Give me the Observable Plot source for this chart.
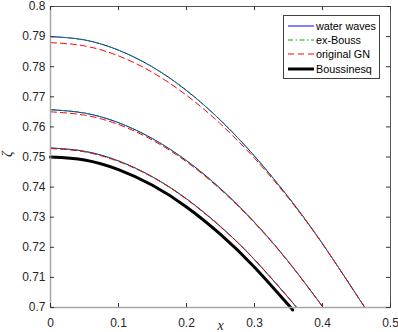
<!DOCTYPE html>
<html><head><meta charset="utf-8">
<script src="https://cdn.jsdelivr.net/npm/d3@7"></script>
<script src="https://cdn.jsdelivr.net/npm/@observablehq/plot@0.6"></script>
<style>
body{margin:0;background:#fff;}
#wrap{position:relative;width:398px;height:332px;font-family:"Liberation Sans",Arial,sans-serif;}
#legend{position:absolute;left:283px;top:15px;width:97px;height:64px;border:1px solid #404040;background:#fff;box-sizing:border-box;font-size:10.8px;color:#000;}
.row{position:absolute;left:0;height:14px;line-height:14px;white-space:nowrap;}
.row svg{position:absolute;left:3px;top:0;}
.row span{position:absolute;left:32px;top:0;}
</style></head>
<body><div id="wrap"><div id="legend"></div></div>
<script>
// tick values
const xTicks = [0, 0.1, 0.2, 0.3, 0.4, 0.5];
const yTicks = [0.7, 0.71, 0.72, 0.73, 0.74, 0.75, 0.76, 0.77, 0.78, 0.79, 0.8];
const seriesNames = ["water waves", "ex-Bouss", "original GN", "Boussinesq"];

// curve 1 (largest amplitude)
const x1 = [0, 0.05, 0.1, 0.15, 0.2, 0.25, 0.3, 0.35, 0.4, 0.45, 0.4625];
const ww1 = [0.7900, 0.7889, 0.7855, 0.7799, 0.7721, 0.7622, 0.7503, 0.7366, 0.7212, 0.7042, 0.7000];
const ex1 = [0.7900, 0.7889, 0.7855, 0.7799, 0.7721, 0.7622, 0.7503, 0.7366, 0.7212, 0.7042, 0.7000];
const gn1 = [0.7880, 0.7869, 0.7836, 0.7781, 0.7705, 0.7610, 0.7496, 0.7363, 0.7211, 0.7042, 0.7000];
// curve 2
const x2 = [0, 0.05, 0.1, 0.15, 0.2, 0.25, 0.3, 0.35, 0.401];
const ww2 = [0.7657, 0.7646, 0.7614, 0.7561, 0.7488, 0.7395, 0.7283, 0.7152, 0.7000];
const ex2 = [0.7657, 0.7646, 0.7614, 0.7561, 0.7488, 0.7395, 0.7283, 0.7152, 0.7000];
const gn2 = [0.7650, 0.7639, 0.7608, 0.7556, 0.7484, 0.7392, 0.7281, 0.7151, 0.7000];
// curve 3
const x3 = [0, 0.05, 0.1, 0.15, 0.2, 0.25, 0.3, 0.35, 0.362];
const ww3 = [0.7530, 0.7519, 0.7487, 0.7434, 0.7361, 0.7269, 0.7159, 0.7032, 0.7000];
const ex3 = [0.7530, 0.7519, 0.7487, 0.7434, 0.7361, 0.7269, 0.7159, 0.7032, 0.7000];
const gn3 = [0.7528, 0.7517, 0.7485, 0.7433, 0.7360, 0.7268, 0.7159, 0.7032, 0.7000];
// Boussinesq
const xb = [0, 0.05, 0.1, 0.15, 0.2, 0.25, 0.3, 0.35, 0.353];
const bous = [0.7500, 0.7490, 0.7458, 0.7406, 0.7334, 0.7243, 0.7134, 0.7008, 0.7000];

const rows = (xs, ys, g) => xs.map((x, i) => ({x, y: ys[i], g}));
const wwData = [...rows(x1, ww1, 1), ...rows(x2, ww2, 2), ...rows(x3, ww3, 3)];
const exData = [...rows(x1, ex1, 1), ...rows(x2, ex2, 2), ...rows(x3, ex3, 3)];
const gnData = [...rows(x1, gn1, 1), ...rows(x2, gn2, 2), ...rows(x3, gn3, 3)];
const bData = rows(xb, bous, 0);

const styles = [
  {stroke: "#0000ff", strokeWidth: 1, dash: null},
  {stroke: "#1a9a1a", strokeWidth: 1, dash: "5,2.5,1.5,2.5"},
  {stroke: "#ff0000", strokeWidth: 1, dash: "6,4"},
  {stroke: "#000000", strokeWidth: 3, dash: null}
];

const W = 398, H = 332, mL = 50, mR = 8, mT = 6, mB = 25;
const pH = H - mT - mB, pW = W - mL - mR;
const fmt = d3.format("~g");
const lineOpts = (s) => ({x: "x", y: "y", z: "g", curve: "natural", stroke: s.stroke, strokeWidth: s.strokeWidth, strokeDasharray: s.dash});

const chart = Plot.plot({
  width: W, height: H, marginLeft: mL, marginRight: mR, marginTop: mT, marginBottom: mB,
  style: {fontFamily: "'Liberation Sans', Arial, sans-serif", fontSize: "12px", color: "#262626", background: "white"},
  x: {domain: [0, 0.5]},
  y: {domain: [0.7, 0.8]},
  marks: [
    Plot.line(wwData, lineOpts(styles[0])),
    Plot.line(exData, lineOpts(styles[1])),
    Plot.line(gnData, lineOpts(styles[2])),
    Plot.line(bData, lineOpts(styles[3])),
    Plot.frame({stroke: "#555555", strokeWidth: 1}),
    Plot.ruleX([0], {stroke: "#a6a6a6", strokeWidth: 1.5}),
    Plot.ruleY([0.7], {stroke: "#a6a6a6", strokeWidth: 1.5}),
    Plot.tickX(xTicks, {x: d => d, insetTop: pH - 4, stroke: "#333333"}),
    Plot.tickX(xTicks, {x: d => d, insetBottom: pH - 4, stroke: "#333333"}),
    Plot.tickY(yTicks, {y: d => d, insetLeft: pW - 4, stroke: "#333333"}),
    Plot.tickY(yTicks, {y: d => d, insetRight: pW - 4, stroke: "#333333"}),
    Plot.axisX({ticks: xTicks, tickSize: 0, tickPadding: 11, tickFormat: fmt, label: null, fill: "#262626"}),
    Plot.axisY({ticks: yTicks, tickSize: 0, tickPadding: 5, tickFormat: fmt, label: null, fill: "#262626"}),
    Plot.text(["x"], {frameAnchor: "bottom", dy: 22, text: d => d, fontStyle: "italic", fontFamily: "'Liberation Serif', serif", fontSize: 14, fill: "#262626"}),
    Plot.text(["ζ"], {frameAnchor: "left", dx: -43, text: d => d, rotate: -90, fontStyle: "italic", fontFamily: "'Liberation Serif', serif", fontSize: 14, fill: "#262626"})
  ]
});
document.getElementById("wrap").prepend(chart);

// legend
const leg = document.getElementById("legend");
seriesNames.forEach((name, i) => {
  const s = styles[i];
  const r = document.createElement("div");
  r.className = "row";
  r.style.top = (2.5 + i * 14.4) + "px";
  r.innerHTML = `<svg width="28" height="14"><line x1="1" x2="27" y1="7" y2="7" stroke="${s.stroke}" stroke-width="${s.strokeWidth}" ${s.dash ? `stroke-dasharray="${s.dash}"` : ""}/></svg><span>${name}</span>`;
  leg.appendChild(r);
});
</script>
</body></html>
